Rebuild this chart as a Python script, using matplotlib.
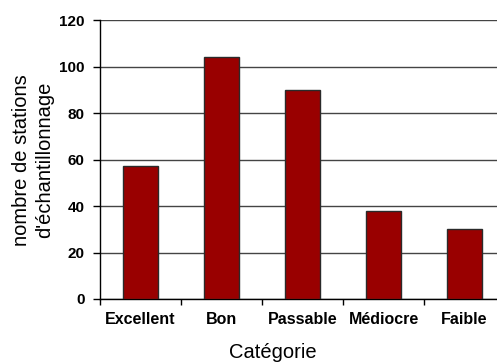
import numpy as np
import matplotlib.pyplot as plt

categories = ["Excellent", "Bon", "Passable", "Médiocre", "Faible"]
counts = [57, 104, 90, 38, 30]
yticks = [0, 20, 40, 60, 80, 100, 120]

plt.rcParams['font.family'] = ['Liberation Sans', 'DejaVu Sans']

fig = plt.figure(figsize=(4.97, 3.62), dpi=100)
W, H = 497, 362
# plot area runs past the right edge of the figure
ax = fig.add_axes([100 / W, 63 / H, 405 / W, 279 / H])

x = np.arange(len(categories))
ax.bar(x, counts, width=0.43, color="#990000", edgecolor="#2a2a2a",
       linewidth=1, zorder=3)

ax.set_xlim(-0.5, len(categories) - 0.5)
ax.set_ylim(0, 120)
ax.set_yticks(yticks)
ax.set_yticklabels([str(v) for v in yticks], fontsize=11, fontweight="bold")
ax.yaxis.grid(True, color="#444444", linewidth=1, zorder=0)

# boundary ticks between categories, labels at the centres
ax.set_xticks(np.arange(len(categories) + 1) - 0.5)
ax.set_xticklabels([])
ax.set_xticks(x, minor=True)
ax.set_xticklabels(categories, minor=True, fontsize=11.5, fontweight="bold")
ax.tick_params(axis="x", which="minor", length=0, pad=9)
ax.tick_params(axis="x", which="major", length=4, width=1)
ax.tick_params(axis="y", length=5, width=1, pad=6)

for s in ["top", "right"]:
    ax.spines[s].set_visible(False)
ax.spines["left"].set_linewidth(1)
ax.spines["bottom"].set_linewidth(1)

fig.text(33 / W, 1 - 160 / H, "nombre de stations\nd'échantillonnage",
         rotation=90, ha="center", va="center", fontsize=14.5,
         linespacing=1.25)
fig.text(273 / W, 1 - 352 / H, "Catégorie", ha="center", va="center",
         fontsize=14.5)

fig.savefig("out.png", dpi=100)
